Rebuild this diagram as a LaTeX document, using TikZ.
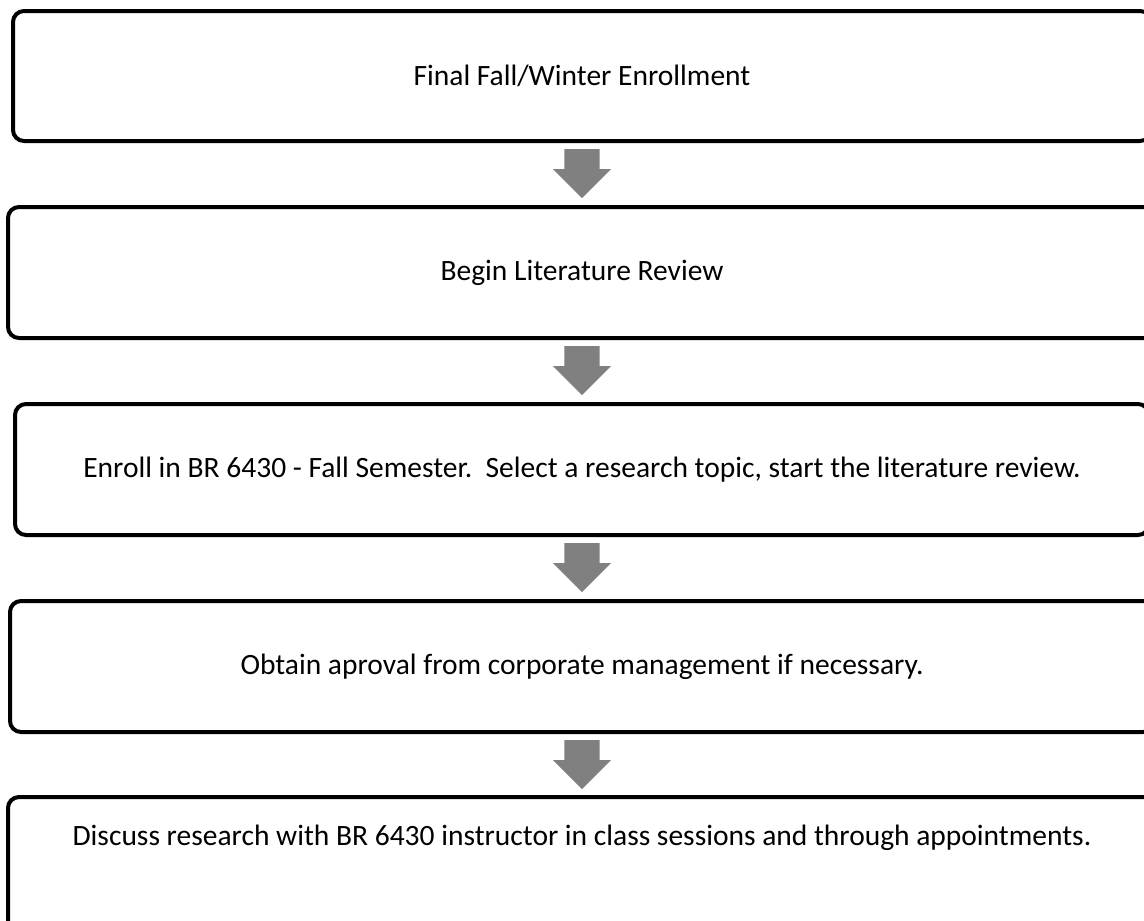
\documentclass[tikz,border=0pt]{standalone}
\usepackage{fontspec}
\setmainfont{Carlito}
\usetikzlibrary{shapes.arrows,calc}
\definecolor{flowgray}{RGB}{128,128,128}
\begin{document}
\begin{tikzpicture}[x=1pt,y=-1pt,font=\fontsize{29.5}{35}\selectfont,
  stepbox/.style={draw=black,line width=4pt,rounded corners=11pt,inner sep=0pt},
  downarrow/.style={single arrow,shape border rotate=270,fill=flowgray,draw=none,inner xsep=17.5pt,inner ysep=0pt,
    minimum height=49pt,minimum width=58pt,single arrow head extend=11.5pt,single arrow head indent=0pt,anchor=tail}]
\useasboundingbox (0,0) rectangle (1144,921);
\fill[white] (0,0) rectangle (1144,921);
% the five steps
\node[stepbox,minimum width=1138pt,minimum height=130pt] (b1) at (582,76) {Final Fall/Winter Enrollment};
\node[stepbox,minimum width=1148pt,minimum height=131pt] (b2) at (582,272.5) {Begin Literature Review};
\node[stepbox,minimum width=1134pt,minimum height=131pt] (b3) at (582,469.5) {Enroll in BR 6430 - Fall Semester.\ \ Select a research topic, start the literature review.};
\node[stepbox,minimum width=1144pt,minimum height=131pt] (b4) at (582,666.5) {Obtain aproval from corporate management if necessary.};
\node[stepbox,minimum width=1148pt,minimum height=150pt] (b5) at (582,872) {};
\node (t5) at (582,838) {Discuss research with BR 6430 instructor in class sessions and through appointments.};
% block arrows hanging below each step
\node[downarrow] (a1) at ($(b1.south)+(0,6)$) {};
\node[downarrow] (a2) at ($(b2.south)+(0,6)$) {};
\node[downarrow] (a3) at ($(b3.south)+(0,6)$) {};
\node[downarrow] (a4) at ($(b4.south)+(0,6)$) {};
\end{tikzpicture}
\end{document}
